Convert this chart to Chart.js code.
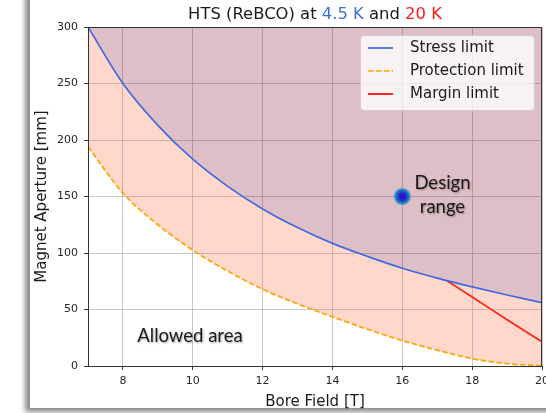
<!DOCTYPE html>
<html>
<head>
<meta charset="utf-8">
<script src="https://cdn.jsdelivr.net/npm/chart.js@4.4.0/dist/chart.umd.min.js"></script>
<style>
    html, body { margin: 0; padding: 0; background: #fff; overflow: hidden; }
    #frame { position: absolute; left: 30px; top: -20px; width: 560px; height: 428px; background: #fff;
             box-shadow: -5px 4px 5px rgba(0, 0, 0, 0.45); }
    #wrap { position: absolute; left: 0; top: 0; width: 546px; height: 413px; }
</style>
</head>
<body>
<div id="frame"></div>
<div id="wrap"><canvas id="grafico" width="546" height="413"></canvas></div>
<script>
// Dados
const boreField = [7, 8, 9, 10, 11, 12, 13, 14, 15, 16, 17, 18, 19, 20];
const stressLimit = [300, 250, 213, 183, 159, 139, 122.5, 108.5, 97, 86.5, 77.8, 70, 62.8, 56];
const protectionLimit = [194, 153, 125, 102.5, 84, 68, 55, 43.5, 32.5, 22.5, 14, 6.5, 2, 0.3];
const marginField = [17.28, 18, 19, 20];
const marginLimit = [75.5, 61, 41, 21.5];
const designPoint = [16, 150];
const xTickValues = [8, 10, 12, 14, 16, 18, 20];
const yTickValues = [0, 50, 100, 150, 200, 250, 300];
const seriesLabels = ['Stress limit', 'Protection limit', 'Margin limit'];
const titleParts = [['HTS (ReBCO) at ', '#1a1a1a'], ['4.5 K', '#3b6fe0'], [' and ', '#1a1a1a'], ['20 K', '#ff1a1a']];

const toXY = (xs, ys) => xs.map((x, i) => ({ x: x, y: ys[i] }));

// Ponto "Design range" com gradiente radial
function criarPonto(r) {
    const c = document.createElement('canvas');
    c.width = c.height = 2 * r + 2;
    const g = c.getContext('2d');
    const m = r + 1;
    const grad = g.createRadialGradient(m, m, 0, m, m, r);
    grad.addColorStop(0, '#1a00ff');
    grad.addColorStop(0.4, '#0040ff');
    grad.addColorStop(0.78, '#00b0ff');
    grad.addColorStop(1, 'rgba(0, 210, 255, 0.2)');
    g.fillStyle = grad;
    g.beginPath();
    g.arc(m, m, r, 0, Math.PI * 2);
    g.fill();
    return c;
}

const textos = [
    { x: 17.15, y: 162, text: 'Design' },
    { x: 17.15, y: 141, text: 'range' },
    { x: 9.92, y: 26.5, text: 'Allowed area' }
];

const extras = {
    id: 'extras',
    afterDraw(chart) {
        const ctx = chart.ctx;
        const a = chart.chartArea;
        const xs = chart.scales.x, ys = chart.scales.y;

        // molduras (spines)
        ctx.save();
        ctx.strokeStyle = '#333';
        ctx.lineWidth = 1;
        ctx.strokeRect(Math.round(a.left) + 0.5, Math.round(a.top) + 0.5,
            Math.round(a.right - a.left) - 1, Math.round(a.bottom - a.top));
        ctx.restore();

        // titulo colorido
        ctx.save();
        ctx.font = '16.4px "DejaVu Sans"';
        ctx.textBaseline = 'middle';
        const total = titleParts.reduce((s, p) => s + ctx.measureText(p[0]).width, 0);
        let tx = (a.left + a.right) / 2 - total / 2;
        titleParts.forEach(p => {
            ctx.fillStyle = p[1];
            ctx.fillText(p[0], tx, 15);
            tx += ctx.measureText(p[0]).width;
        });
        ctx.restore();

        // anotacoes
        ctx.save();
        ctx.font = '18.5px Lato';
        ctx.textAlign = 'center';
        ctx.textBaseline = 'middle';
        ctx.fillStyle = '#1a1a1a';
        ctx.shadowColor = 'rgba(0, 0, 0, 0.35)';
        ctx.shadowBlur = 2;
        ctx.shadowOffsetX = 1;
        ctx.shadowOffsetY = 1;
        textos.forEach(t => ctx.fillText(t.text, xs.getPixelForValue(t.x), ys.getPixelForValue(t.y)));
        ctx.restore();

        // legenda
        const itens = chart.data.datasets.filter(d => d.label);
        const w = 174, h = 75;
        const lx = a.right - 8 - w, ly = a.top + 8;
        ctx.save();
        ctx.fillStyle = 'rgba(255, 255, 255, 0.8)';
        ctx.strokeStyle = 'rgba(204, 204, 204, 0.9)';
        ctx.lineWidth = 1;
        ctx.beginPath();
        ctx.roundRect(lx + 0.5, ly + 0.5, w, h, 4);
        ctx.fill();
        ctx.stroke();
        ctx.font = '15px "DejaVu Sans"';
        ctx.textBaseline = 'middle';
        itens.forEach((d, i) => {
            const yy = ly + 13 + i * 23;
            ctx.strokeStyle = d.borderColor;
            ctx.lineWidth = 1.7;
            ctx.setLineDash(d.borderDash || []);
            ctx.beginPath();
            ctx.moveTo(lx + 8, yy);
            ctx.lineTo(lx + 33, yy);
            ctx.stroke();
            ctx.setLineDash([]);
            ctx.fillStyle = '#1a1a1a';
            ctx.fillText(d.label, lx + 50, yy);
        });
        ctx.restore();
    }
};

const ctx = document.getElementById('grafico').getContext('2d');
new Chart(ctx, {
    type: 'line',
    data: {
        datasets: [{
            label: seriesLabels[0],
            data: toXY(boreField, stressLimit),
            borderColor: '#4169e1',
            borderWidth: 1.7,
            pointRadius: 0,
            cubicInterpolationMode: 'monotone',
            fill: 'end',
            backgroundColor: 'rgba(128, 0, 32, 0.25)'
        }, {
            label: seriesLabels[1],
            data: toXY(boreField, protectionLimit),
            borderColor: '#ffa500',
            borderWidth: 1.7,
            borderDash: [5.5, 2.4],
            pointRadius: 0,
            cubicInterpolationMode: 'monotone',
            fill: 0,
            backgroundColor: 'rgba(255, 110, 70, 0.28)'
        }, {
            label: seriesLabels[2],
            data: toXY(marginField, marginLimit),
            borderColor: '#ff0000',
            borderWidth: 1.7,
            pointRadius: 0,
            tension: 0.2,
            fill: false
        }, {
            data: [{ x: designPoint[0], y: designPoint[1] }],
            showLine: false,
            pointStyle: criarPonto(9),
            pointRadius: 9,
            fill: false
        }]
    },
    options: {
        responsive: false,
        animation: false,
        layout: { autoPadding: false, padding: { left: 0, top: 27, right: 4, bottom: 0 } },
        plugins: { legend: { display: false }, tooltip: { enabled: false }, title: { display: false } },
        scales: {
            x: {
                type: 'linear',
                min: 7,
                max: 20,
                afterBuildTicks: s => { s.ticks = xTickValues.map(v => ({ value: v })); },
                afterFit: s => { s.height = 47; s.paddingLeft = 0; s.paddingRight = 0; },
                grid: { color: 'rgba(176, 176, 176, 0.7)', tickColor: '#333', tickLength: 4 },
                border: { display: false },
                ticks: { font: { family: 'DejaVu Sans', size: 11, lineHeight: 1.2 }, color: '#262626', padding: 5, maxRotation: 0 },
                title: { display: true, text: 'Bore Field [T]', color: '#1a1a1a',
                         font: { family: 'DejaVu Sans', size: 15, lineHeight: 1.2 }, padding: { top: 0, bottom: 2 } }
            },
            y: {
                min: 0,
                max: 300,
                afterBuildTicks: s => { s.ticks = yTickValues.map(v => ({ value: v })); },
                afterFit: s => { s.width = 88; s.paddingTop = 0; s.paddingBottom = 0; },
                grid: { color: 'rgba(176, 176, 176, 0.7)', tickColor: '#333', tickLength: 4 },
                border: { display: false },
                ticks: { font: { family: 'DejaVu Sans', size: 11, lineHeight: 1.2 }, color: '#262626', padding: 6 },
                title: { display: true, text: 'Magnet Aperture [mm]', color: '#1a1a1a',
                         font: { family: 'DejaVu Sans', size: 15, lineHeight: 1.2 }, padding: { top: 33, bottom: 0 } }
            }
        }
    },
    plugins: [extras]
});
</script>
</body>
</html>
